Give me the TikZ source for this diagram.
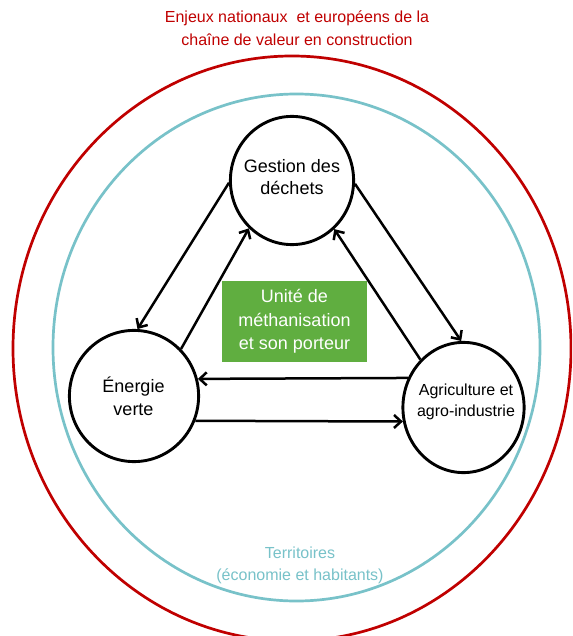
\documentclass[tikz,border=0pt]{standalone}
\usepackage{fontspec}
\setmainfont{Liberation Sans}
\usetikzlibrary{shapes.geometric,arrows.meta}
\definecolor{redring}{HTML}{C00000}
\definecolor{tealring}{HTML}{78C2C9}
\definecolor{boxgreen}{RGB}{96,174,64}
\tikzset{
  ring/.style={line width=2.7pt},
  hub/.style={ellipse, draw, line width=2.9pt, inner sep=0pt},
  lbl/.style={align=center, inner sep=0pt},
  arr/.style={line width=2.5pt, -{Straight Barb[length=7pt,width=13pt]}},
  unit/.style={fill=boxgreen, text=white, align=center, inner sep=0pt,
    minimum width=145pt, minimum height=81pt, font=\fontsize{18}{23.5}\selectfont}
}
\begin{document}
\begin{tikzpicture}[x=1pt,y=-1pt]
\useasboundingbox (0,0) rectangle (572,636);
\clip (0,0) rectangle (572,636);
\fill[white] (0,0) rectangle (572,636);
% rings
\draw[ring, redring] (292,348.5) ellipse [x radius=279, y radius=292.5];
\draw[ring, tealring] (296.5,347.5) ellipse [x radius=243.5, y radius=253.5];
% ring labels
\node[lbl, text=redring, font=\fontsize{16}{23}\selectfont] (enjeux) at (297,28.5)
  {Enjeux nationaux \ et européens de la\\chaîne de valeur en construction};
\node[lbl, text=tealring, font=\fontsize{16}{22}\selectfont] (terr) at (300,565)
  {Territoires\\(économie et habitants)};
% hubs
\node[hub, minimum width=123.2pt, minimum height=128.2pt] (ges) at (292,180.5) {};
\node[hub, minimum width=129.2pt, minimum height=131.2pt] (ene) at (134,396) {};
\node[hub, minimum width=121.2pt, minimum height=130.2pt] (agr) at (463.5,407.5) {};
\node[lbl, font=\fontsize{18}{22}\selectfont] (gestxt) at (292,177) {Gestion des\\déchets};
\node[lbl, font=\fontsize{18}{23}\selectfont] (enetxt) at (133.5,396.5) {Énergie\\verte};
\node[lbl, font=\fontsize{16}{21}\selectfont] (agrtxt) at (466,401.5) {Agriculture et\\agro-industrie};
% central unit
\node[unit] (unite) at (294.5,321.5) {Unité de\\méthanisation\\et son porteur};
% connectors
\draw[arr] (ges.182) -- (ene.87.5);
\draw[arr] (ene.45.6) -- (ges.228);
\draw[arr] (ges.357.7) -- (agr.92.5);
\draw[arr] (agr.132.6) -- (ges.311);
\draw[arr] (agr.152.6) -- (ene.15.8);
\draw[arr] (ene.-22.2) -- (agr.193);
\end{tikzpicture}
\end{document}
